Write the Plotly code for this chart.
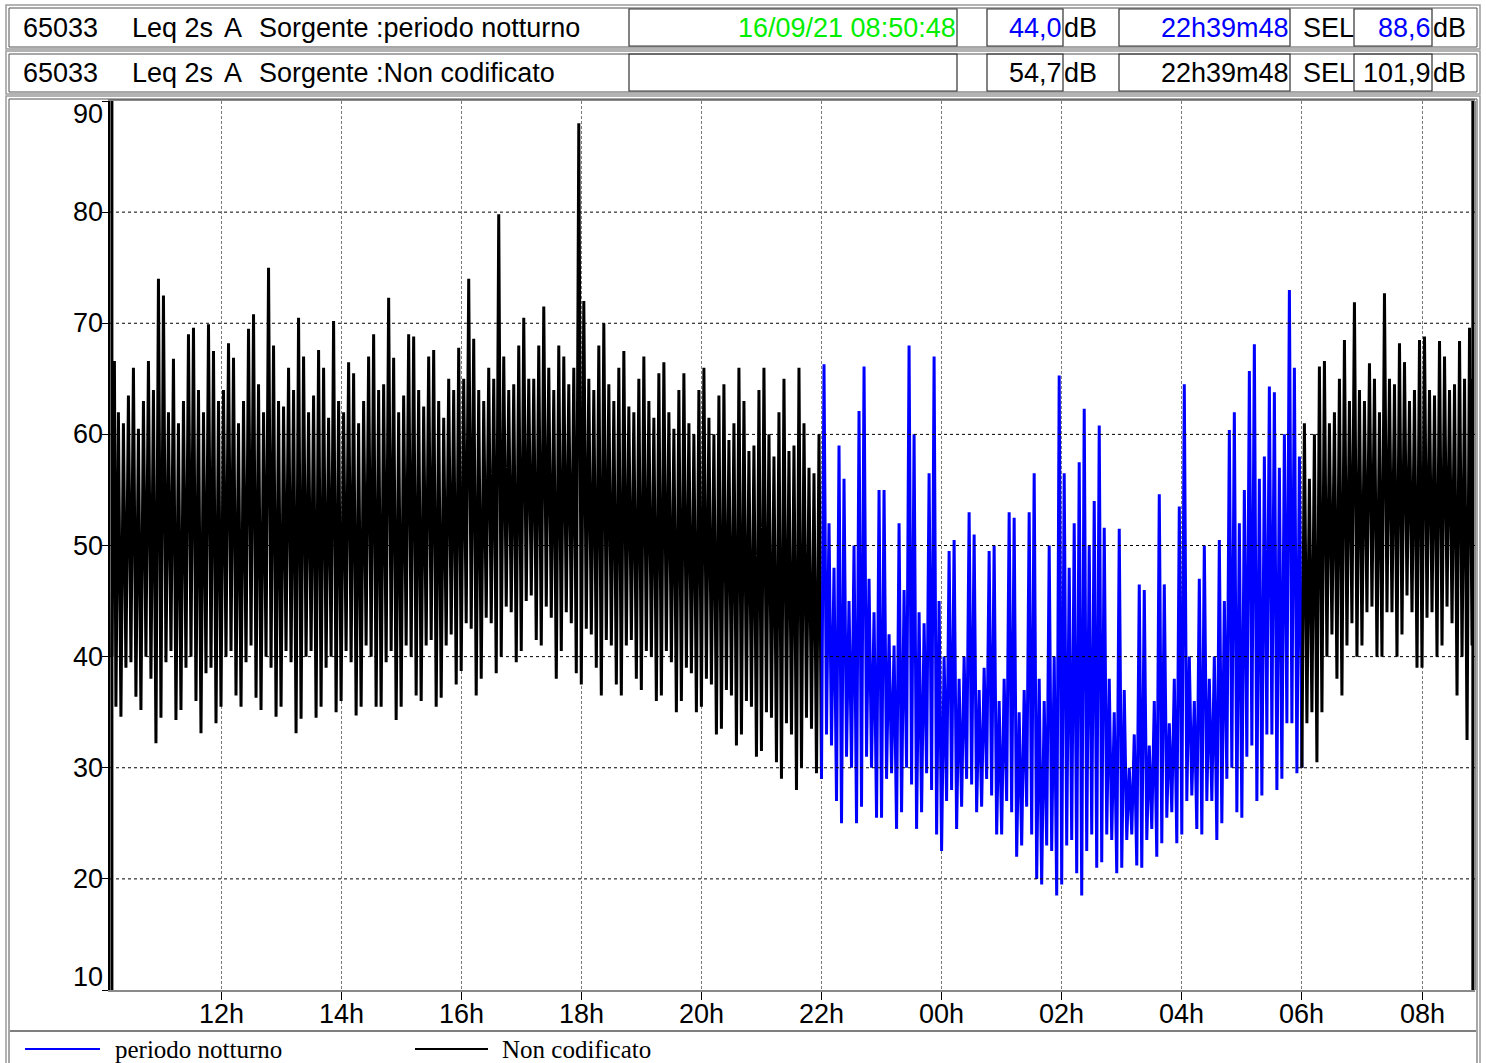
import pandas as pd
import plotly.graph_objects as go

# ---------------- data ----------------
START = pd.Timestamp("2021-09-15 10:11:00")
NIGHT_START = pd.Timestamp("2021-09-15 22:00:00")
NIGHT_END = pd.Timestamp("2021-09-16 06:00:00")
END = pd.Timestamp("2021-09-16 08:50:48")

# 5-minute peak / trough values (dB)
# "Non codificato" 10:10 -> 21:55
day_hi = [66.6, 62, 61, 63.5, 66, 60.5, 63, 66.6, 64, 74,
          72.5, 62, 66.8, 61, 63, 69, 69.6, 64, 62, 69.9,
          67.5, 63, 64, 68.2, 66.9, 61, 63, 69.5, 70.8, 64.5,
          62, 75, 68, 63, 62.5, 66, 64, 70.5, 67, 62,
          63.5, 67.6, 66, 61.5, 70.2, 63, 62, 66.5, 65.5, 61,
          63, 67, 69, 64, 64.5, 72.3, 66.9, 62, 63.5, 69,
          68.8, 64, 62.5, 67, 67.6, 63, 61.5, 65, 64, 67.8,
          65, 74, 68.6, 64, 63, 66, 65, 79.8, 67, 64,
          64.5, 68, 70.5, 65, 65, 68, 71.5, 66, 64, 68,
          67, 64.5, 66, 88, 72, 65, 64, 68, 70, 64.5,
          63, 66, 67.5, 62.5, 62, 65, 67, 63, 61.5, 65.5,
          66.5, 62, 60.5, 64, 65.5, 61, 60, 64, 66, 61.5,
          60, 63.5, 64.5, 59.5, 61, 66, 63, 58.5, 59, 64,
          66, 60, 58, 62, 65, 58.5, 59, 66, 61, 57,
          56.5, 60]
day_lo = [40, 35.5, 34.6, 39, 39.5, 36.4, 35.2, 40, 38, 32.2,
          34.5, 39.5, 40.5, 34.3, 35.2, 39, 40, 36, 33.1, 38.5,
          39, 34, 35.5, 40, 40.5, 36.5, 35.5, 39.5, 41, 36.3,
          35.2, 40, 39, 34.6, 35.5, 40.5, 39.5, 33.1, 34.4, 40,
          40.5, 34.5, 35.5, 39, 40, 35, 36, 40.5, 39.5, 34.7,
          35.5, 41, 40, 35.5, 35.5, 39.5, 40.5, 34.3, 35.5, 41,
          40, 36.5, 36, 41, 41.5, 35.5, 36.3, 41, 42, 37.5,
          38.7, 43, 42.5, 36.5, 38, 43.5, 43, 38.5, 40, 44.5,
          44, 39.5, 40.5, 45, 45.5, 41.5, 41, 44.5, 43.5, 38,
          40.5, 44, 43, 38.5, 37.5, 42.5, 42, 39, 36.5, 41.5,
          41, 37.5, 36.5, 41, 41.5, 38, 37, 40.5, 40, 36,
          36.5, 40.5, 39.5, 35, 36, 39, 38.5, 35, 35.5, 38,
          37.5, 33, 33.5, 37, 36.5, 32, 33, 36, 35.5, 31,
          31.5, 35, 34.5, 30.5, 29, 34, 33, 28, 30, 34.5,
          33.5, 29.5]

# "periodo notturno" 22:00 -> 05:55
night_hi = [66.3, 52, 48, 59, 56, 45, 50, 62.1, 66.1, 47, 44, 55,
            55, 42, 41, 52, 46, 68, 60, 44, 43, 56.5, 67, 45,
            40, 49.5, 50.5, 38, 40, 53, 51, 37, 39, 49.5, 50, 36,
            38, 53, 52.5, 35, 37, 53, 56.5, 38, 36, 50, 40, 65.3,
            56.5, 48, 52, 57.5, 62.3, 50, 54, 60.8, 51.6, 38, 35, 51.5,
            37, 30, 33, 46.5, 46, 32, 36, 54.6, 46.5, 34, 38, 53.5,
            64.5, 40, 36, 47, 50, 38, 40, 50.5, 45, 60.4, 62, 52,
            55, 65.7, 68.1, 56, 58, 64.3, 63.8, 57, 60, 73, 66, 58]
night_lo = [29, 33, 32, 27, 25, 31, 30, 25, 26.5, 31, 30, 25.5,
            25.5, 29, 29.5, 24.5, 26, 30, 28.5, 24.5, 26, 29.5, 28, 24,
            22.5, 27, 28, 24.5, 26.5, 29, 28.5, 26, 26.5, 29, 27.5, 24,
            24, 27, 26, 22, 23, 26.5, 24, 20, 19.5, 23, 22.5, 18.5,
            19.5, 23, 23.5, 20.5, 18.5, 22.5, 24, 21, 21.5, 24, 23.5, 20.5,
            21, 23.5, 24, 21.2, 21, 23.5, 24.5, 22, 23.2, 25.5, 26, 23.2,
            24, 27, 27.5, 24.5, 24, 27, 27, 23.5, 25, 29, 30, 26,
            25.5, 31, 32, 27, 27.5, 33, 33, 28, 29, 34, 34, 29.5]

# "Non codificato" 06:00 -> 08:50:48
morn_hi = [61, 56, 60, 66.1, 66.6, 61, 62, 65, 68.5, 63, 71.9, 64,
           63, 66.4, 65, 62, 72.7, 65, 64.5, 68.2, 66.5, 63, 64, 68.5,
           68.8, 64, 63.5, 68.4, 67, 64, 64.5, 68.4, 65, 69.6, 65]
morn_lo = [30, 34, 35, 30.5, 35, 40, 42, 38, 36.5, 41, 43, 40,
           41, 44, 44.5, 40, 40, 44, 44, 40, 42, 45.5, 44, 39,
           39, 43.5, 44, 40, 41, 44.5, 43, 36.5, 40, 32.5, 41]

y_ticks = [10, 20, 30, 40, 50, 60, 70, 80, 90]
x_ticks = list(pd.date_range("2021-09-15 12:00", "2021-09-16 08:00", freq="2h"))

BLUE = "#0000FF"
BLACK = "#000000"
GREEN = "#00EE00"
SANS = "Liberation Sans, Arial, sans-serif"
SERIF = "Liberation Serif, Times New Roman, serif"

# ---------------- build series ----------------
HALF = pd.Timedelta(seconds=150)


def zigzag(starts, hi, lo, seg_end, next_lo):
    xs, ys = [], []
    for s, h, l in zip(starts, hi, lo):
        xs += [s, min(s + HALF, seg_end)]
        ys += [l, h]
    xs.append(seg_end)
    ys.append(next_lo)
    return xs, ys


day_starts = [START] + list(pd.date_range("2021-09-15 10:15", periods=len(day_hi) - 1, freq="5min"))
night_starts = list(pd.date_range(NIGHT_START, periods=len(night_hi), freq="5min"))
morn_starts = list(pd.date_range(NIGHT_END, periods=len(morn_hi), freq="5min"))

dx, dy = zigzag(day_starts, day_hi, day_lo, NIGHT_START, night_lo[0])
nx, ny = zigzag(night_starts, night_hi, night_lo, NIGHT_END, morn_lo[0])
mx, my = zigzag(morn_starts, morn_hi, morn_lo, END, morn_lo[-1])

fig = go.Figure()
fig.add_trace(go.Scatter(x=dx, y=dy, mode="lines", line=dict(color=BLACK, width=3),
                         name="Non codificato", showlegend=False))
fig.add_trace(go.Scatter(x=nx, y=ny, mode="lines", line=dict(color=BLUE, width=3),
                         name="periodo notturno", showlegend=False))
fig.add_trace(go.Scatter(x=mx, y=my, mode="lines", line=dict(color=BLACK, width=3),
                         name="Non codificato", showlegend=False))

# ---------------- layout ----------------
W, H = 1486, 1063
PL, PT, PR, PB = 110, 101, 1475, 990
PW, PH = PR - PL, PB - PT


def fx(px):
    return (px - PL) / PW


def fy(py):
    return (PB - py) / PH


shapes = []
annotations = []

# cursors at start / end of measurement
for t in (START, END):
    shapes.append(dict(type="line", xref="x", yref="paper", x0=t, x1=t, y0=0, y1=1,
                       line=dict(color=BLACK, width=3), layer="above"))
# right grey frame
shapes.append(dict(type="line", xref="paper", yref="paper", x0=1, x1=1, y0=0, y1=1,
                   line=dict(color="#8a8a8a", width=2), layer="above"))
# horizontal dashed grid
for v in y_ticks[1:-1]:
    shapes.append(dict(type="line", xref="paper", yref="y", x0=0, x1=1, y0=v, y1=v,
                       line=dict(color=BLACK, width=1, dash="3px,3px"), layer="above"))


def rect(x0, y0, x1, y1, color, width):
    shapes.append(dict(type="rect", xref="paper", yref="paper",
                       x0=fx(x0), x1=fx(x1), y0=fy(y1), y1=fy(y0),
                       line=dict(color=color, width=width), layer="above"))


def hline(x0, x1, y, color, width):
    shapes.append(dict(type="line", xref="paper", yref="paper",
                       x0=fx(x0), x1=fx(x1), y0=fy(y), y1=fy(y),
                       line=dict(color=color, width=width), layer="above"))


# header rows and main panel frames
for (y0, y1) in [(5, 49), (51, 94), (96, 1075)]:
    rect(6, y0, 1480, y1, "#9a9a9a", 1.5)
    rect(9, y0 + 3, 1477, y1 - 2, "#505050", 1)

# value boxes
for (ry0, ry1) in [(9, 46), (54, 91)]:
    for (bx0, bx1) in [(629, 957), (987, 1063), (1119, 1290), (1354, 1432)]:
        rect(bx0, ry0, bx1, ry1, "#303030", 1.2)

# legend separator
hline(10, 1476, 1031, BLACK, 1.2)


def text(x, y, s, color=BLACK, anchor="left", size=27, family=SANS):
    annotations.append(dict(x=fx(x), y=fy(y), xref="paper", yref="paper", text=s,
                            showarrow=False, xanchor=anchor, yanchor="middle",
                            font=dict(family=family, size=size, color=color)))


rows = [
    (28, "periodo notturno", "16/09/21 08:50:48", "44,0", "22h39m48", "88,6", BLUE),
    (73, "Non codificato", "", "54,7", "22h39m48", "101,9", BLACK),
]
for (ry, src, date, leq, dur, sel, vcol) in rows:
    text(21, ry, "65033")
    text(130, ry, "Leq 2s")
    text(222, ry, "A")
    text(257, ry, "Sorgente :" + src)
    if date:
        text(958, ry, date, color=GREEN, anchor="right")
    text(1064, ry, leq, color=vcol, anchor="right")
    text(1062, ry, "dB")
    text(1291, ry, dur, color=vcol, anchor="right")
    text(1301, ry, "SEL")
    text(1433, ry, sel, color=vcol, anchor="right")
    text(1431, ry, "dB")

# y tick labels (end labels shifted inside like the original)
for v in y_ticks:
    if v == y_ticks[-1]:
        ya, ys = "top", 4
    elif v == y_ticks[0]:
        ya, ys = "bottom", -4
    else:
        ya, ys = "middle", 0
    annotations.append(dict(x=fx(105), y=v, xref="paper", yref="y", text=str(v),
                            showarrow=False, xanchor="right", yanchor=ya, yshift=ys,
                            font=dict(family=SANS, size=27, color=BLACK)))

# x tick labels
for t in x_ticks:
    annotations.append(dict(x=t, y=fy(1014), xref="x", yref="paper", text=t.strftime("%Hh"),
                            showarrow=False, xanchor="center", yanchor="middle",
                            font=dict(family=SANS, size=27, color=BLACK)))

# legend
hline(25, 100, 1049, BLUE, 2)
text(113, 1049, "periodo notturno", family=SERIF, size=25)
hline(415, 488, 1049, BLACK, 2)
text(500, 1049, "Non codificato", family=SERIF, size=25)

x_left = pd.Timestamp("2021-09-15 12:00") - pd.Timedelta(hours=(221 - PL) / 60.05)
x_right = pd.Timestamp("2021-09-16 08:00") + pd.Timedelta(hours=(PR - 1422) / 60.05)

fig.update_layout(
    width=W, height=H,
    margin=dict(l=PL, r=W - PR, t=PT, b=H - PB, pad=0),
    paper_bgcolor="white", plot_bgcolor="white",
    showlegend=False,
    shapes=shapes, annotations=annotations,
    xaxis=dict(type="date", range=[x_left, x_right],
               tickvals=x_ticks, showticklabels=False,
               showgrid=True, gridcolor="#7a7a7a", gridwidth=1, griddash="3px,2px",
               ticks="outside", ticklen=8, tickwidth=1, tickcolor=BLACK,
               showline=True, linecolor="#8a8a8a", linewidth=2, mirror=True,
               zeroline=False, fixedrange=True),
    yaxis=dict(range=[y_ticks[0], y_ticks[-1]], tickvals=y_ticks, showticklabels=False,
               showgrid=False, ticks="outside", ticklen=6, tickwidth=1, tickcolor=BLACK,
               showline=True, linecolor=BLACK, linewidth=2, mirror=False,
               zeroline=False, fixedrange=True),
)

fig.write_html("out.html")
